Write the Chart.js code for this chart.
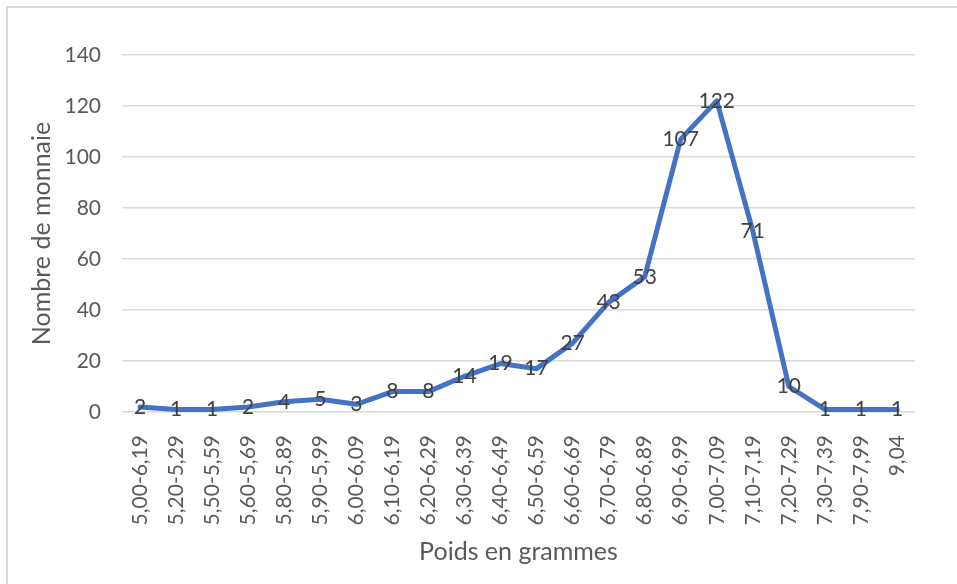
<!DOCTYPE html>
<html><head><meta charset="utf-8">
<script src="https://cdn.jsdelivr.net/npm/chart.js@4/dist/chart.umd.min.js"></script>
<style>
html,body{margin:0;padding:0;background:#fff;}
#wrap{position:relative;width:957px;height:584px;overflow:hidden;}
#frame{position:absolute;left:6px;top:6px;width:960px;height:600px;border-left:2px solid #d9d9d9;border-top:2px solid #d9d9d9;}
canvas{position:absolute;left:0;top:0;}
</style></head>
<body><div id="wrap"><div id="frame"></div><canvas id="c" width="957" height="584"></canvas></div>
<script>
const categories = ["5,00-6,19","5,20-5,29","5,50-5,59","5,60-5,69","5,80-5,89","5,90-5,99","6,00-6,09","6,10-6,19","6,20-6,29","6,30-6,39","6,40-6,49","6,50-6,59","6,60-6,69","6,70-6,79","6,80-6,89","6,90-6,99","7,00-7,09","7,10-7,19","7,20-7,29","7,30-7,39","7,90-7,99","9,04"];
const counts = [2,1,1,2,4,5,3,8,8,14,19,17,27,43,53,107,122,71,10,1,1,1];
const yMin = 0, yMax = 140, yStep = 20;
const xTitle = "Poids en grammes";
const yTitle = "Nombre de monnaie";

const FONT = "Lato";
const labelPlugin = {
  id: 'pointLabels',
  afterDatasetsDraw(chart) {
    const ctx = chart.ctx;
    const meta = chart.getDatasetMeta(0);
    ctx.save();
    ctx.font = "21px " + FONT;
    ctx.fillStyle = "#404040";
    ctx.textAlign = "center";
    ctx.textBaseline = "middle";
    meta.data.forEach((pt, i) => {
      ctx.fillText(String(counts[i]), pt.x, pt.y);
    });
    ctx.restore();
  }
};

new Chart(document.getElementById('c'), {
  type: 'line',
  data: {
    labels: categories,
    datasets: [{
      data: counts,
      borderColor: '#4472C4',
      borderWidth: 5,
      borderJoinStyle: 'round',
      borderCapStyle: 'round',
      pointRadius: 0,
      pointHoverRadius: 0,
      fill: false,
      tension: 0
    }]
  },
  options: {
    responsive: false,
    animation: false,
    events: [],
    layout: { padding: { top: 55, left: 10, right: 42, bottom: 10 } },
    plugins: { legend: { display: false }, tooltip: { enabled: false } },
    scales: {
      x: {
        offset: true,
        grid: { display: false, drawTicks: false },
        border: { display: false },
        ticks: {
          autoSkip: false, minRotation: 90, maxRotation: 90, padding: 23,
          color: '#595959', font: { family: FONT, size: 21 }
        },
        title: {
          display: true, text: xTitle, color: '#595959',
          font: { family: FONT, size: 25 }, padding: { top: 0, bottom: 7 }
        },
        afterFit(s) { s.height = 162; }
      },
      y: {
        min: yMin, max: yMax,
        grid: { color: '#d9d9d9', lineWidth: 1.5, drawTicks: false },
        border: { display: false },
        ticks: {
          stepSize: yStep, padding: 21,
          color: '#595959', font: { family: FONT, size: 21 }
        },
        title: {
          display: true, text: yTitle, color: '#595959',
          font: { family: FONT, size: 25 }, padding: { top: 17, bottom: 0 }
        },
        afterFit(s) { s.width = 112; }
      }
    }
  },
  plugins: [labelPlugin]
});
</script>
</body></html>
